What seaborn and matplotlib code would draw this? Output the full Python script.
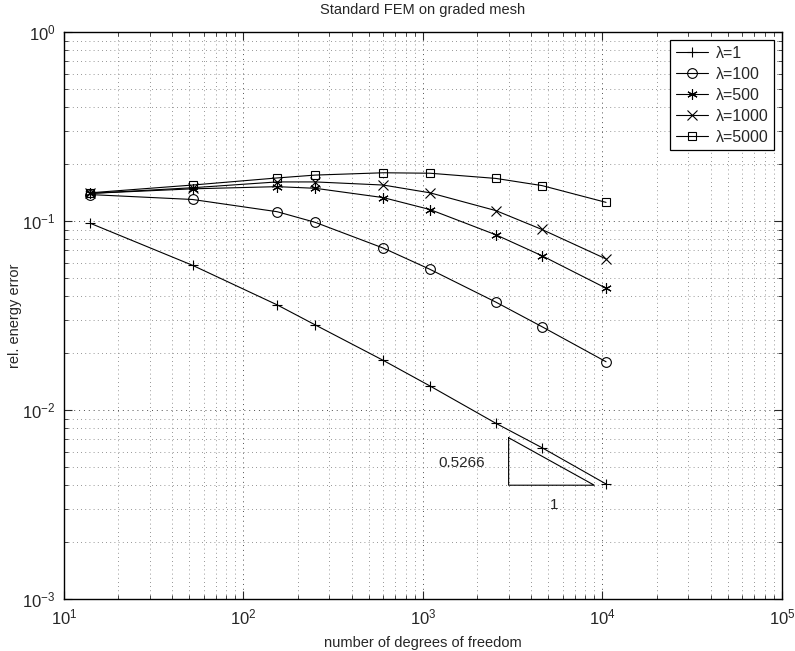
import numpy as np
import pandas as pd
import matplotlib
matplotlib.use('Agg')
import matplotlib.pyplot as plt
import seaborn as sns

# degrees of freedom (same mesh sequence for every lambda)
dofs = [14, 52, 154, 251, 601, 1094, 2550, 4600, 10470]

err_lam1 = [0.0973, 0.0583, 0.0360, 0.0282, 0.0183, 0.0134, 0.0085, 0.00632, 0.00406]
err_lam100 = [0.138, 0.130, 0.112, 0.0984, 0.0719, 0.0555, 0.0372, 0.0276, 0.0180]
err_lam500 = [0.140, 0.148, 0.152, 0.149, 0.133, 0.115, 0.0845, 0.0655, 0.0441]
err_lam1000 = [0.140, 0.150, 0.161, 0.161, 0.155, 0.141, 0.1135, 0.0902, 0.0630]
err_lam5000 = [0.141, 0.155, 0.169, 0.175, 0.180, 0.179, 0.168, 0.154, 0.1255]

labels = ['λ=1', 'λ=100', 'λ=500', 'λ=1000', 'λ=5000']
# matlab style markers: plus, circle, asterisk, cross, square
markers = ['+', 'o', (6, 2, 0), 'x', 's']
msizes = [7.5, 7, 7.5, 6.5, 6]

# slope triangle
slope = 0.5266
tri_x = [3000, 9000]
tri_y0 = 0.004

series = [err_lam1, err_lam100, err_lam500, err_lam1000, err_lam5000]

sns.set_style('ticks')
plt.rcParams['font.family'] = ['Liberation Sans', 'DejaVu Sans']
plt.rcParams['mathtext.fontset'] = 'custom'
plt.rcParams['mathtext.rm'] = 'Liberation Sans'
plt.rcParams['mathtext.it'] = 'Liberation Sans'

fig = plt.figure(figsize=(7.95, 6.51), dpi=100)
ax = fig.add_axes([0.0805, 0.0799, 0.9031, 0.8709])

for lab, mk, ms, vals in zip(labels, markers, msizes, series):
    df = pd.DataFrame({'dof': dofs, 'err': vals})
    hollow = mk in ('o', 's')
    sns.lineplot(data=df, x='dof', y='err', ax=ax, color='k', linewidth=0.8,
                 marker=mk, markersize=ms,
                 markerfacecolor='none' if hollow else 'k',
                 markeredgecolor='k', markeredgewidth=0.8, label=lab)

ty1 = tri_y0 * (tri_x[1] / tri_x[0]) ** slope
ax.plot([tri_x[0], tri_x[0], tri_x[1], tri_x[0]], [ty1, tri_y0, tri_y0, ty1],
        color='k', linewidth=0.8)
ax.text(2230, 0.00523, '%.4f' % slope, ha='right', va='center', fontsize=11)
ax.text(5370, 0.00314, '1', ha='center', va='center', fontsize=11)

ax.set_xscale('log')
ax.set_yscale('log')
ax.set_xlim(10, 1e5)
ax.set_ylim(1e-3, 1)

ax.grid(True, which='major', linestyle=(0, (1, 4)), color='0.3', linewidth=0.7)
ax.grid(True, which='minor', linestyle=(0, (1, 4)), color='0.45', linewidth=0.6)
ax.tick_params(which='both', direction='in', top=True, right=True, labelsize=12)
ax.tick_params(which='major', length=6, pad=6)
ax.tick_params(which='minor', length=3)
for sp in ax.spines.values():
    sp.set_linewidth(1.0)
    sp.set_color('k')

ax.set_title('Standard FEM on graded mesh', fontsize=10.5, pad=13)
ax.set_xlabel('number of degrees of freedom', fontsize=10.5, labelpad=6)
ax.set_ylabel('rel. energy error', fontsize=10.5, labelpad=0)

leg = ax.legend(loc='upper right', fancybox=False, edgecolor='k', framealpha=1,
                fontsize=11.5, handlelength=2.0, borderaxespad=0.5,
                labelspacing=0.38, borderpad=0.35, handletextpad=0.5)
leg.get_frame().set_linewidth(0.9)

fig.savefig('out.png', dpi=100)
